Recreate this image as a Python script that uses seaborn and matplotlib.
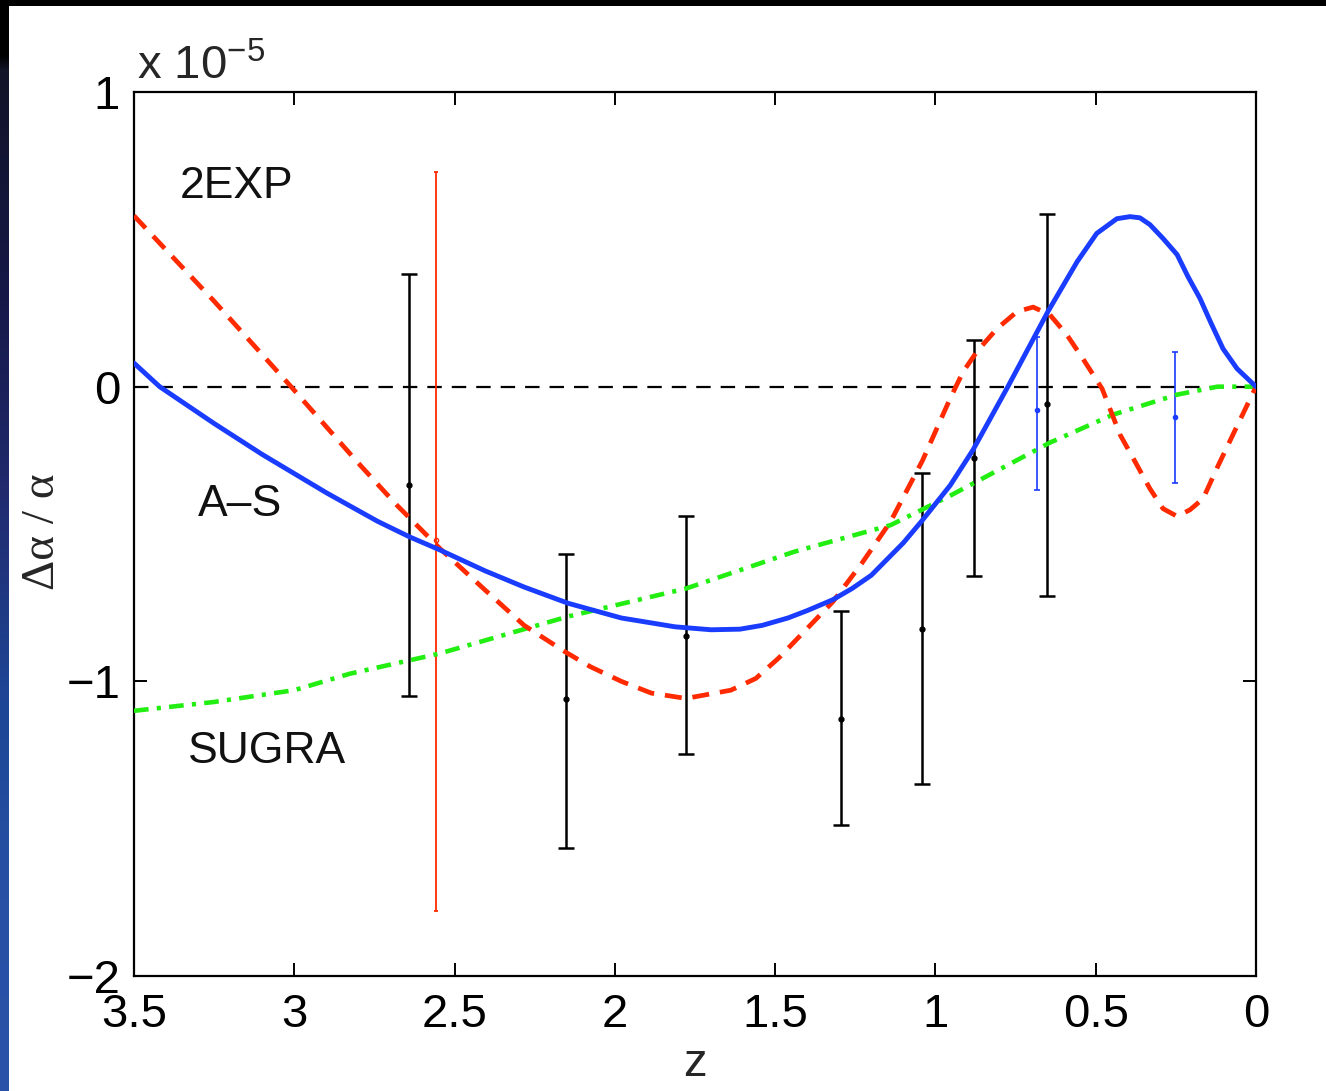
import numpy as np
import pandas as pd
import matplotlib
matplotlib.use("Agg")
import matplotlib.pyplot as plt
import seaborn as sns
from matplotlib.patches import Rectangle

# ---------------- data (delta alpha / alpha, in units of 1e-5) ----------------
as_z = [3.50, 3.42, 3.25, 3.10, 3.00, 2.90, 2.826, 2.74, 2.64, 2.548, 2.405, 2.283, 2.146,
        1.98, 1.812, 1.70, 1.61, 1.54, 1.46, 1.40, 1.32, 1.26, 1.20, 1.10, 1.042, 0.954,
        0.883, 0.774, 0.649, 0.558, 0.497, 0.434, 0.393, 0.362, 0.331, 0.29, 0.246, 0.212,
        0.175, 0.14, 0.103, 0.059, 0.0]
as_y = [0.08, 0.0, -0.125, -0.23, -0.295, -0.36, -0.405, -0.457, -0.51, -0.553, -0.625,
        -0.68, -0.735, -0.785, -0.815, -0.825, -0.823, -0.81, -0.785, -0.76, -0.723, -0.685,
        -0.64, -0.53, -0.455, -0.335, -0.215, 0.0, 0.255, 0.424, 0.52, 0.57, 0.577, 0.573,
        0.55, 0.503, 0.448, 0.373, 0.30, 0.215, 0.129, 0.061, 0.0]

exp_z = [3.50, 3.25, 3.01, 2.804, 2.682, 2.545, 2.405, 2.283, 2.155, 2.077, 1.98, 1.886,
         1.778, 1.638, 1.56, 1.488, 1.32, 1.23, 1.14, 1.04, 0.954, 0.914, 0.87, 0.808,
         0.745, 0.695, 0.643, 0.59, 0.54, 0.48, 0.424, 0.377, 0.331, 0.29, 0.246, 0.206,
         0.165, 0.122, 0.072, 0.0]
exp_y = [0.58, 0.29, 0.0, -0.255, -0.40, -0.55, -0.69, -0.81, -0.90, -0.95, -1.00, -1.04,
         -1.058, -1.03, -0.99, -0.92, -0.73, -0.60, -0.458, -0.25, -0.04, 0.05, 0.12, 0.197,
         0.255, 0.27, 0.244, 0.176, 0.095, -0.007, -0.163, -0.255, -0.346, -0.414, -0.44,
         -0.418, -0.38, -0.277, -0.163, 0.0]

sugra_z = [3.50, 3.25, 3.00, 2.826, 2.548, 2.146, 1.778, 1.44, 1.14, 0.954, 0.643, 0.446,
           0.246, 0.12, 0.0]
sugra_y = [-1.10, -1.07, -1.03, -0.974, -0.906, -0.78, -0.685, -0.56, -0.47, -0.37, -0.19,
           -0.095, -0.027, 0.0, 0.0]

obs_z = [2.642, 2.152, 1.778, 1.294, 1.042, 0.880, 0.652]
obs_y = [-0.333, -1.059, -0.845, -1.127, -0.821, -0.241, -0.058]
obs_lo = [-1.049, -1.564, -1.245, -1.486, -1.350, -0.641, -0.709]
obs_hi = [0.383, -0.567, -0.438, -0.760, -0.292, 0.159, 0.587]

blue_z = [0.683, 0.253]
blue_y = [-0.078, -0.102]
blue_lo = [-0.35, -0.326]
blue_hi = [0.17, 0.119]

red_z = [2.558]
red_y = [-0.52]
red_lo = [-1.78]
red_hi = [0.73]

x_ticks = [3.5, 3, 2.5, 2, 1.5, 1, 0.5, 0]
x_ticklabels = ["3.5", "3", "2.5", "2", "1.5", "1", "0.5", "0"]
y_ticks = [-2, -1, 0, 1]
y_ticklabels = ["\u22122", "\u22121", "0", "1"]

labels = ["2EXP", "A\u2013S", "SUGRA"]
label_z = [3.356, 3.30, 3.331]
label_y = [0.679, -0.40, -1.239]

# ---------------- style ----------------
sns.set_style("ticks")
plt.rcParams["font.family"] = ["Liberation Sans", "DejaVu Sans"]
plt.rcParams["mathtext.fontset"] = "custom"
plt.rcParams["mathtext.rm"] = "Liberation Sans"
plt.rcParams["mathtext.it"] = "Liberation Sans:italic"
plt.rcParams["axes.linewidth"] = 1.6

BLUE = "#1a3cff"
RED = "#ff2a00"
GREEN = "#22ee11"

fig = plt.figure(figsize=(13.26, 10.91), dpi=100, facecolor="white")

# decorative slide border (black top strip, dark-to-blue gradient on the left)
stops_y = [0, 55, 70, 300, 500, 700, 900, 1091]
stops_c = [(0, 0, 0), (0, 0, 0), (18, 20, 40), (22, 24, 72), (33, 44, 112),
           (30, 70, 150), (40, 80, 165), (42, 82, 168)]
yy = np.arange(1091)
grad = np.zeros((1091, 1, 3))
for ch in range(3):
    grad[:, 0, ch] = np.interp(yy, stops_y, [c[ch] for c in stops_c]) / 255.0
sax = fig.add_axes([0, 0, 9 / 1326, 1])
sax.imshow(grad, aspect="auto", interpolation="bilinear")
sax.set_axis_off()
fig.patches.append(Rectangle((0, 1 - 6 / 1091), 1, 6 / 1091, transform=fig.transFigure,
                             facecolor="black", edgecolor="none", zorder=10))

ax = fig.add_axes([134 / 1326, 1 - 976 / 1091, 1122 / 1326, 884 / 1091])
ax.set_facecolor("white")

# zero reference line
ax.axhline(0, color="black", lw=1.6, dashes=(6.5, 4.5), zorder=1)

# error bars
ax.errorbar(obs_z, obs_y,
            yerr=[np.array(obs_y) - np.array(obs_lo), np.array(obs_hi) - np.array(obs_y)],
            fmt="o", ms=3.5, color="black", ecolor="black", elinewidth=1.8,
            capsize=5.5, capthick=1.8, zorder=3)
ax.errorbar(blue_z, blue_y,
            yerr=[np.array(blue_y) - np.array(blue_lo), np.array(blue_hi) - np.array(blue_y)],
            fmt="o", ms=3, color=BLUE, ecolor=BLUE, elinewidth=1.2,
            capsize=2.2, capthick=1.2, zorder=3)
ax.errorbar(red_z, red_y,
            yerr=[np.array(red_y) - np.array(red_lo), np.array(red_hi) - np.array(red_y)],
            fmt="o", ms=3, mfc="none", color=RED, ecolor=RED, elinewidth=1.3,
            capsize=1.5, capthick=1.3, zorder=3)

# model curves
df_as = pd.DataFrame({"z": as_z, "d": as_y})
df_exp = pd.DataFrame({"z": exp_z, "d": exp_y})
df_su = pd.DataFrame({"z": sugra_z, "d": sugra_y})

sns.lineplot(data=df_su, x="z", y="d", ax=ax, color=GREEN, linewidth=3.3,
             sort=False, estimator=None, zorder=4)
ax.lines[-1].set_dashes((3.2, 1.8, 0.9, 1.8))
sns.lineplot(data=df_exp, x="z", y="d", ax=ax, color=RED, linewidth=3.4,
             sort=False, estimator=None, zorder=5)
ax.lines[-1].set_dashes((3.6, 2.3))
sns.lineplot(data=df_as, x="z", y="d", ax=ax, color=BLUE, linewidth=3.5,
             sort=False, estimator=None, zorder=6)
ax.lines[-1].set_solid_joinstyle("round")

for t, lz, ly in zip(labels, label_z, label_y):
    ax.text(lz, ly, t, fontsize=32, ha="left", va="center", color="#111111")

ax.set_xlim(3.5, 0)
ax.set_ylim(-2, 1)
ax.set_xticks(x_ticks)
ax.set_xticklabels(x_ticklabels)
ax.set_yticks(y_ticks)
ax.set_yticklabels(y_ticklabels)
ax.tick_params(axis="both", direction="in", length=9.5, width=1.4, top=True, right=True,
               labelsize=34, colors="black")
ax.tick_params(axis="x", pad=12)
ax.tick_params(axis="y", pad=10)
for s in ax.spines.values():
    s.set_visible(True)
    s.set_color("black")

ax.set_xlabel("z", fontsize=34)
ax.xaxis.set_label_coords(0.5, -0.075)
ax.set_ylabel("\u0394\u03b1 / \u03b1", fontsize=34, family=["Liberation Serif", "DejaVu Serif"])
ax.yaxis.set_label_coords(-0.062, 0.503)

ax.text(0.003, 1.014, r"x 10$^{-5}$", transform=ax.transAxes, fontsize=34,
        ha="left", va="baseline")

fig.savefig("out.png", dpi=100, facecolor="white")
